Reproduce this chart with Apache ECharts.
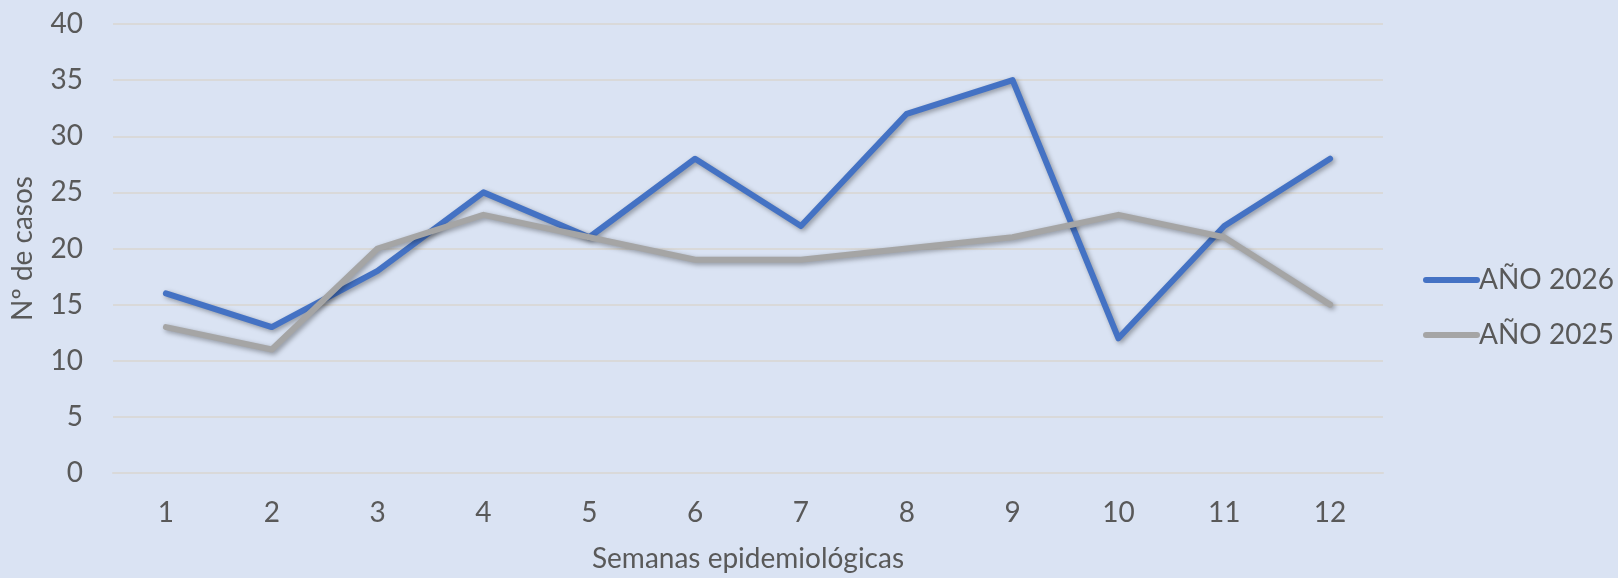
<!DOCTYPE html>
<html>
<head>
<meta charset="utf-8">
<script src="https://cdn.jsdelivr.net/npm/echarts@6/dist/echarts.min.js"></script>
<style>
html,body{margin:0;padding:0;background:#dae3f3;}
#c{width:1618px;height:578px;}
</style>
</head>
<body>
<div id="c"></div>
<script>
var categories = ['1','2','3','4','5','6','7','8','9','10','11','12'];
var serie2026 = [16, 13, 18, 25, 21, 28, 22, 32, 35, 12, 22, 28];
var serie2025 = [13, 11, 20, 23, 21, 19, 19, 20, 21, 23, 21, 15];
var seriesNames = ['AÑO 2026', 'AÑO 2025'];
var yTicks = {min: 0, max: 40, interval: 5};

var FONT = 'Lato';
var TXT = '#595959';
var LEG_ICON = 'path://M3,0 L54,0 A3,3 0 0 1 54,6 L3,6 A3,3 0 0 1 3,0 Z';
var chart = echarts.init(document.getElementById('c'), null, {renderer: 'canvas'});

function lineSeries(name, data, color) {
  return {
    name: name,
    type: 'line',
    data: data,
    symbol: 'none',
    lineStyle: {
      color: color, width: 6, cap: 'round', join: 'round',
      shadowColor: 'rgba(0,0,0,0.35)', shadowBlur: 5, shadowOffsetX: 2, shadowOffsetY: 2
    },
    itemStyle: {color: color}
  };
}

chart.setOption({
  backgroundColor: '#dae3f3',
  animation: false,
  textStyle: {fontFamily: FONT},
  grid: {left: 113, right: 235, top: 24, bottom: 104, containLabel: false},
  legend: {
    orient: 'vertical',
    left: 1418,
    top: 261,
    itemWidth: 57,
    itemHeight: 28,
    itemGap: 27,
    symbolKeepAspect: true,
    data: [
      {name: seriesNames[0], icon: LEG_ICON, itemStyle: {color: '#4472c4'}},
      {name: seriesNames[1], icon: LEG_ICON, itemStyle: {color: '#a5a5a5'}}
    ],
    textStyle: {fontFamily: FONT, fontSize: 28, color: TXT, padding: [0, 0, 0, -6]}
  },
  xAxis: {
    type: 'category',
    data: categories,
    boundaryGap: true,
    name: 'Semanas epidemiológicas',
    nameLocation: 'middle',
    nameGap: 72,
    nameTextStyle: {fontFamily: FONT, fontSize: 28, color: TXT},
    axisLine: {show: true, lineStyle: {color: '#d9d9d9', width: 2}},
    axisTick: {show: false},
    axisLabel: {fontFamily: FONT, fontSize: 28, color: TXT, margin: 26}
  },
  yAxis: {
    type: 'value',
    min: yTicks.min, max: yTicks.max, interval: yTicks.interval,
    name: 'Nº de casos',
    nameLocation: 'middle',
    nameGap: 76,
    nameTextStyle: {fontFamily: FONT, fontSize: 28, color: TXT},
    axisLine: {show: false},
    axisTick: {show: false},
    axisLabel: {fontFamily: FONT, fontSize: 28, color: TXT, margin: 30},
    splitLine: {show: true, lineStyle: {color: '#d9d9d9', width: 2}}
  },
  series: [
    lineSeries(seriesNames[0], serie2026, '#4472c4'),
    lineSeries(seriesNames[1], serie2025, '#a5a5a5')
  ]
});
</script>
</body>
</html>
